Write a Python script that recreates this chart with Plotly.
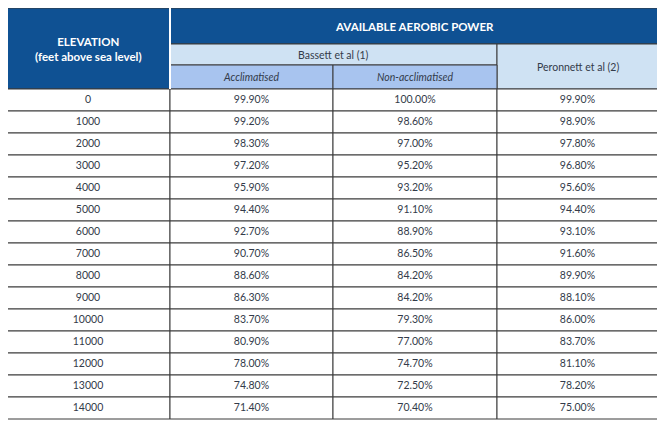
import plotly.graph_objects as go

elevations = [0, 1000, 2000, 3000, 4000, 5000, 6000, 7000, 8000, 9000, 10000, 11000, 12000, 13000, 14000]
acclimatised = ["99.90%", "99.20%", "98.30%", "97.20%", "95.90%", "94.40%", "92.70%", "90.70%", "88.60%", "86.30%", "83.70%", "80.90%", "78.00%", "74.80%", "71.40%"]
non_acclimatised = ["100.00%", "98.60%", "97.00%", "95.20%", "93.20%", "91.10%", "88.90%", "86.50%", "84.20%", "84.20%", "79.30%", "77.00%", "74.70%", "72.50%", "70.40%"]
peronnett = ["99.90%", "98.90%", "97.80%", "96.80%", "95.60%", "94.40%", "93.10%", "91.60%", "89.90%", "88.10%", "86.00%", "83.70%", "81.10%", "78.20%", "75.00%"]

W, H = 665, 427
OFF = 8  # page body margin
cols = [6, 170, 333, 497, 658]
y_top, y1, y2, y3 = 8, 44, 65, 89
rh = 22
n = len(elevations)

DARK = "#0f5193"
LIGHT = "#cfe2f3"
MID = "#a8c4ef"
TXT = "#333b4a"
FONT = "Lato"

fig = go.Figure()
shapes = []
def rect(x0, y0, x1, y1, fill, line="#3a3a3a", lw=1):
    shapes.append(dict(type="rect", xref="x", yref="y", x0=x0, x1=x1, y0=y0, y1=y1,
                       fillcolor=fill, line=dict(color=line, width=lw), layer="below"))

rect(cols[0], y_top, cols[1], y3, DARK)
rect(cols[1], y_top, cols[4], y1, DARK)
rect(cols[1], y1, cols[3], y2, LIGHT)
rect(cols[3], y1, cols[4], y3, LIGHT)
rect(cols[1], y2, cols[2], y3, MID)
rect(cols[2], y2, cols[3], y3, MID)
shapes.append(dict(type="line", xref="x", yref="y", x0=cols[1], x1=cols[1], y0=y_top, y1=y3,
                   line=dict(color="white", width=2)))
for i in range(n):
    for c in range(4):
        rect(cols[c], y3 + i * rh, cols[c + 1], y3 + (i + 1) * rh, "white")

ann = []
def text(x, y, s, size=10, color=TXT, bold=False, italic=False):
    if bold:
        s = "<b>" + s + "</b>"
    if italic:
        s = "<i>" + s + "</i>"
    ann.append(dict(x=x, y=y, xref="x", yref="y", text=s, showarrow=False,
                    font=dict(family=FONT, size=size, color=color), xanchor="center", yanchor="middle"))

cx = [(cols[i] + cols[i + 1]) / 2 for i in range(4)]
text(cx[0], (y_top + y3) / 2, "ELEVATION<br>(feet above sea level)", 11.5, "white", bold=True)
text((cols[1] + cols[4]) / 2, (y_top + y1) / 2, "AVAILABLE AEROBIC POWER", 11.5, "white", bold=True)
text((cols[1] + cols[3]) / 2, (y1 + y2) / 2, "Bassett et al (1)", 10.5)
text(cx[3], (y1 + y3) / 2, "Peronnett et al (2)", 10.5)
text(cx[1], (y2 + y3) / 2, "Acclimatised", 10.5, italic=True)
text(cx[2], (y2 + y3) / 2, "Non-acclimatised", 10.5, italic=True)

row_y = [y3 + rh * (i + 0.5) for i in range(n)]
for c, vals in enumerate([[str(e) for e in elevations], acclimatised, non_acclimatised, peronnett]):
    fig.add_trace(go.Scatter(x=[cx[c]] * n, y=row_y, mode="text", text=vals,
                             textfont=dict(family=FONT, size=10.5, color=TXT), hoverinfo="skip"))

fig.update_layout(width=W, height=H, margin=dict(l=0, r=0, t=0, b=0), showlegend=False,
                  plot_bgcolor="white", paper_bgcolor="white", shapes=shapes, annotations=ann,
                  xaxis=dict(range=[OFF, W + OFF], visible=False, fixedrange=True),
                  yaxis=dict(range=[H + OFF, OFF], visible=False, fixedrange=True))
fig.write_html("out.html")
